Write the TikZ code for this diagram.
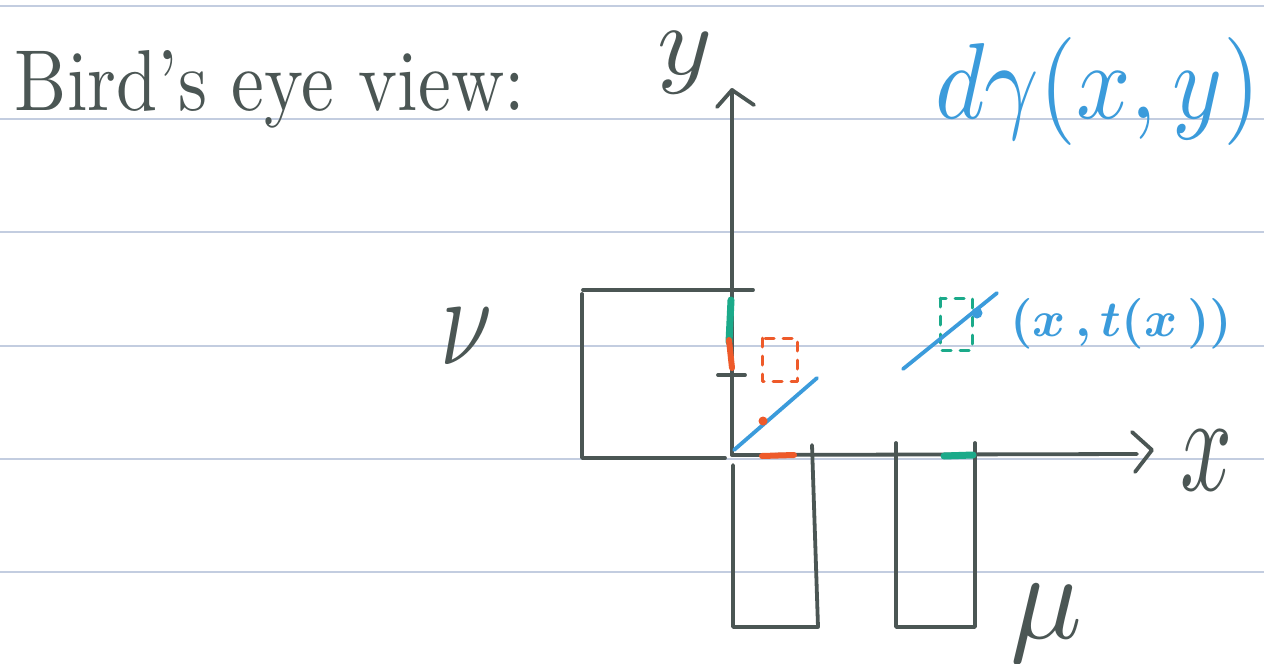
\documentclass[tikz,border=0pt]{standalone}
\usepackage{graphicx}
\definecolor{ink}{HTML}{4B5654}
\definecolor{pblue}{HTML}{3B9BDB}
\definecolor{porange}{HTML}{EE5A2A}
\definecolor{pgreen}{HTML}{1BAA8A}
\definecolor{rulecol}{HTML}{C3CDE0}
\begin{document}
\begin{tikzpicture}[x=1pt,y=-1pt,line cap=round,line join=round,
  pen/.style={draw=ink,line width=3.8pt},
  bluepen/.style={draw=pblue,line width=3.8pt},
  mark orange/.style={draw=porange,line width=6pt},
  mark green/.style={draw=pgreen,line width=7pt},
  dashbox/.style={line width=3pt,dash pattern=on 9pt off 9pt},
  lbl/.style={inner sep=0pt,outer sep=0pt}]
\useasboundingbox[fill=white] (0,0) rectangle (1264,664);
% ruled paper
\foreach \yy in {6,119,232,346,459,572}
  \draw[rulecol,line width=1.2pt] (0,\yy) -- (1264,\yy);
% labels
\node[lbl,anchor=base west,text=ink] (title) at (15,110)
  {\resizebox{510pt}{60pt}{Bird's eye view:}};
\node[lbl,anchor=base west,text=pblue] (dgamma) at (935,118)
  {\resizebox{325pt}{81pt}{$d\gamma(x,y)$}};
\node[lbl,anchor=base west,text=pblue] (pt) at (1010,336)
  {\resizebox{222pt}{38pt}{\boldmath$(x\,,t(x\,))$}};
\node[lbl,anchor=north west,text=ink] (ylab) at (657,32)
  {\resizebox*{55pt}{62pt}{$y$}};
\node[lbl,anchor=north west,text=ink] (xlab) at (1180,430)
  {\resizebox*{52pt}{60pt}{$x$}};
\node[lbl,anchor=north west,text=ink] (nulab) at (440,308)
  {\resizebox*{52pt}{56pt}{$\nu$}};
\node[lbl,anchor=north west,text=ink] (mulab) at (1010,585)
  {\resizebox*{72pt}{78pt}{$\mu$}};
% axes
\coordinate (O) at (732,455);
\coordinate (ytop) at (732,90);
\coordinate (xend) at (1137,454);
\coordinate (yal) at (717,107);
\coordinate (yar) at (754,105);
\coordinate (xat) at (1132,432);
\coordinate (xab) at (1135,472);
\coordinate (xtip) at (1152,450);
\draw[pen] (O) -- (ytop);
\draw[pen] (yal) -- (ytop) -- (yar);
\draw[pen] (O) -- (xend);
\draw[pen] (xat) -- (xtip) -- (xab);
% left rectangle (nu)
\coordinate (L1) at (753,290);
\coordinate (L2) at (583,290);
\coordinate (L3) at (582,458);
\coordinate (L4) at (725,458);
\draw[pen] (L1) -- (L2);
\draw[pen] (582,294) -- (L3) -- (L4);
% tick on y axis
\coordinate (t1) at (718,375);
\coordinate (t2) at (745,375);
\draw[pen] (t1) -- (t2);
% bottom rectangle 1
\coordinate (B1) at (733,465);
\coordinate (B2) at (733,627);
\coordinate (B3) at (818,627);
\coordinate (B4) at (812,445);
\draw[pen] (B1) -- (B2) -- (B3) -- (B4);
% bottom rectangle 2
\coordinate (C1) at (896,443);
\coordinate (C2) at (896,627);
\coordinate (C3) at (975,627);
\coordinate (C4) at (975,443);
\draw[pen] (C1) -- (C2) -- (C3) -- (C4);
% coloured marks on axes
\draw[mark green] (731,300) -- (729,342);
\draw[mark orange] (729,340) -- (732,368);
\draw[mark orange] (762,456) -- (794,455);
\draw[mark green] (944,456) -- (973,455);
% dashed boxes
\draw[porange,dashbox] (762,338) rectangle (797,381);
\draw[pgreen,dashbox] (940,298) rectangle (972,350);
% blue lines
\coordinate (b1) at (734,450);
\coordinate (b2) at (817,378);
\draw[bluepen] (b1) -- (b2);
\fill[porange] (763,421) circle (4.5pt);
\coordinate (c1) at (903,369);
\coordinate (c2) at (997,293);
\draw[bluepen] (c1) -- (c2);
\fill[pblue] (977,313) circle (5.5pt);
\end{tikzpicture}
\end{document}
